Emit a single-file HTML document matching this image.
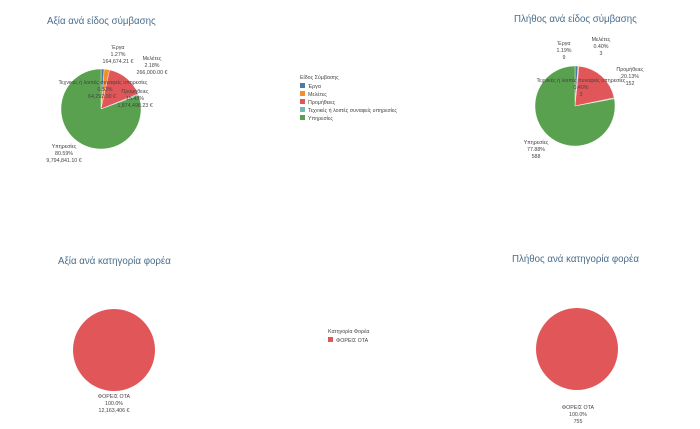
<!DOCTYPE html>
<html><head><meta charset="utf-8"><style>
html,body{margin:0;padding:0;background:#fff;}
svg{display:block;font-family:"Liberation Sans",sans-serif;}
.t{fill:#4a6d8c;font-size:9.7px;}
.l{fill:#444;font-size:5.3px;}
</style></head><body>
<svg id="s" width="700" height="429" viewBox="0 0 700 429">
<text class="t" x="47" y="24">Αξία ανά είδος σύμβασης</text>
<text class="t" x="514" y="22">Πλήθος ανά είδος σύμβασης</text>
<text class="t" x="58" y="264">Αξία ανά κατηγορία φορέα</text>
<text class="t" x="512" y="262">Πλήθος ανά κατηγορία φορέα</text>
<g id="p"></g>
<g text-anchor="middle" class="l">
<text class="l" x="118" y="49">Έργα</text><text class="l" x="118" y="56">1.27%</text><text class="l" x="118" y="63">164,674.21 €</text>
<text class="l" x="152" y="60">Μελέτες</text><text class="l" x="152" y="67">2.18%</text><text class="l" x="152" y="74">266,000.00 €</text>
<text class="l" x="103" y="84">Τεχνικές ή λοιπές συναφείς υπηρεσίες</text><text class="l" x="105" y="91">0.53%</text><text class="l" x="102" y="98">64,292.00 €</text>
<text class="l" x="135" y="93">Προμήθειες</text><text class="l" x="135" y="100">15.43%</text><text class="l" x="135" y="107">1,874,498.23 €</text>
<text class="l" x="64" y="148">Υπηρεσίες</text><text class="l" x="64" y="155">80.59%</text><text class="l" x="64" y="162">9,794,841.10 €</text>
<text class="l" x="564" y="45">Έργα</text><text class="l" x="564" y="52">1.19%</text><text class="l" x="564" y="59">9</text>
<text class="l" x="601" y="41">Μελέτες</text><text class="l" x="601" y="48">0.40%</text><text class="l" x="601" y="55">3</text>
<text class="l" x="630" y="71">Προμήθειες</text><text class="l" x="630" y="78">20.13%</text><text class="l" x="630" y="85">152</text>
<text class="l" x="581" y="82">Τεχνικές ή λοιπές συναφείς υπηρεσίες</text><text class="l" x="581" y="89">0.40%</text><text class="l" x="581" y="96">3</text>
<text class="l" x="536" y="144">Υπηρεσίες</text><text class="l" x="536" y="151">77.88%</text><text class="l" x="536" y="158">588</text>
<text class="l" x="114" y="398">ΦΟΡΕΙΣ ΟΤΑ</text><text class="l" x="114" y="405">100.0%</text><text class="l" x="114" y="412">12,163,406 €</text>
<text class="l" x="578" y="409">ΦΟΡΕΙΣ ΟΤΑ</text><text class="l" x="578" y="416">100.0%</text><text class="l" x="578" y="423">755</text>
</g>
<g class="l">
<text class="l" x="300" y="79">Είδος Σύμβασης</text>
<rect x="300" y="83" width="5" height="5" fill="#4e79a7"/><text class="l" x="308" y="88">Έργα</text>
<rect x="300" y="91" width="5" height="5" fill="#f28e2b"/><text class="l" x="308" y="96">Μελέτες</text>
<rect x="300" y="99" width="5" height="5" fill="#e15759"/><text class="l" x="308" y="104">Προμήθειες</text>
<rect x="300" y="107" width="5" height="5" fill="#76b7b2"/><text class="l" x="308" y="112">Τεχνικές ή λοιπές συναφείς υπηρεσίες</text>
<rect x="300" y="115" width="5" height="5" fill="#59a14f"/><text class="l" x="308" y="120">Υπηρεσίες</text>
<text class="l" x="328" y="333">Κατηγορία Φορέα</text>
<rect x="328" y="337" width="5" height="5" fill="#e15759"/><text class="l" x="336" y="342">ΦΟΡΕΙΣ ΟΤΑ</text>
</g>
<circle cx="114" cy="350" r="41" fill="#e15759"/>
<circle cx="577" cy="349" r="41" fill="#e15759"/>
</svg>
<script>
var C=["#4e79a7","#f28e2b","#e15759","#76b7b2","#59a14f"];
function pie(cx,cy,r,v){var a=0,g=document.getElementById('p'),h='';
for(var i=0;i<v.length;i++){var b=a+v[i]/100*2*Math.PI;
var x1=cx+r*Math.sin(a),y1=cy-r*Math.cos(a),x2=cx+r*Math.sin(b),y2=cy-r*Math.cos(b);
h+='<path d="M'+cx+' '+cy+'L'+x1+' '+y1+'A'+r+' '+r+' 0 '+(b-a>Math.PI?1:0)+' 1 '+x2+' '+y2+'Z" fill="'+C[i]+'" stroke="#fff" stroke-width="0.4"/>';a=b;}
g.innerHTML+=h;}
pie(101,109,40,[1.27,2.18,15.43,0.53,80.59]);
pie(575,106,40,[1.19,0.40,20.13,0.40,77.88]);
</script>
</body></html>
